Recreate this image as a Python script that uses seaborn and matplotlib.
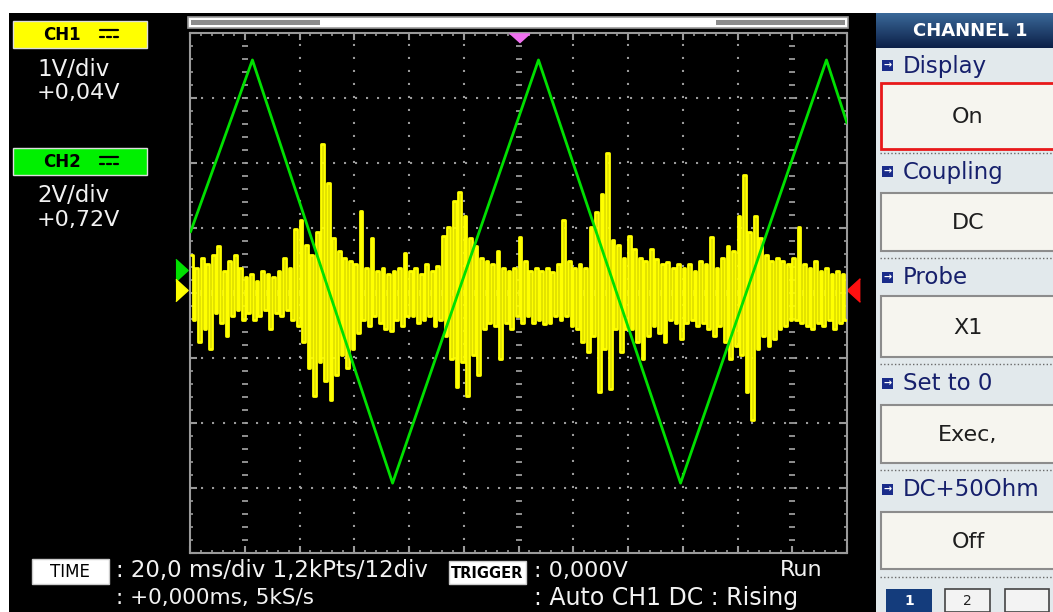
import numpy as np
import matplotlib
matplotlib.use("Agg")
import matplotlib.pyplot as plt
from matplotlib.patches import Rectangle
import seaborn as sns

# scope settings shown on screen
CH1_VOLTS_DIV = 1.0
CH1_OFFSET = 0.04
CH2_VOLTS_DIV = 2.0
CH2_OFFSET = 0.72
TIME_DIV_MS = 20.0

# CH2 - triangle wave, corner points (ms, V)
ch2_ms = [-119.8, -97.2, -46.0, 7.3, 59.2, 112.5, 120.0]
ch2_volts = [1.16, 6.45, -6.57, 6.45, -6.57, 6.45, 4.51]

# CH1 - noisy signal, one reading per ms (one row = one division)
ch1_volts = [
    0.55, -0.45, 0.35, -0.80, 0.50, -0.60, 0.40, -0.90, 0.55, -0.35, 0.68, -0.50, 0.30, -0.70, 0.45, -0.40, 0.55, -0.30, 0.35, -0.45,
    0.20, -0.35, 0.25, -0.45, 0.15, -0.40, 0.30, -0.30, 0.25, -0.60, 0.20, -0.35, 0.30, -0.40, 0.50, -0.30, 0.35, -0.45, 0.94, -0.55,
    1.09, -0.80, 0.70, -1.20, 0.55, -1.63, 0.90, -1.10, 2.25, -1.40, 1.66, -1.68, 0.80, -1.30, 0.60, -1.00, 0.50, -1.20, 0.45, -0.90,
    0.40, -0.65, 1.22, -0.45, 0.35, -0.55, 0.80, -0.40, 0.30, -0.50, 0.35, -0.60, 0.25, -0.62, 0.30, -0.45, 0.35, -0.55, 0.58, -0.40,
    0.30, -0.40, 0.35, -0.50, 0.25, -0.45, 0.40, -0.40, 0.30, -0.55, 0.37, -0.45, 0.83, -0.70, 0.97, -1.06, 1.37, -1.48, 1.51, -1.10,
    1.14, -1.63, 0.80, -1.00, 0.68, -1.30, 0.50, -0.60, 0.45, -0.50, 0.40, -0.55, 0.60, -1.06, 0.35, -0.50, 0.30, -0.60, 0.35, -0.40,
    0.82, -0.50, 0.45, -0.40, 0.30, -0.50, 0.35, -0.45, 0.30, -0.52, 0.35, -0.50, 0.28, -0.40, 0.40, -0.45, 1.09, -0.40, 0.45, -0.55,
    0.35, -0.60, 0.40, -0.80, 0.35, -0.95, 0.98, -0.70, 1.20, -1.57, 1.48, -0.90, 2.12, -1.52, 0.78, -0.60, 0.70, -0.95, 0.50, -0.60,
    0.83, -0.60, 0.63, -0.80, 0.50, -1.06, 0.45, -0.70, 0.63, -0.55, 0.48, -0.65, 0.40, -0.80, 0.43, -0.45, 0.35, -0.50, 0.40, -0.75,
    0.35, -0.50, 0.40, -0.45, 0.30, -0.55, 0.45, -0.50, 0.40, -0.60, 0.82, -0.70, 0.35, -0.55, 0.50, -0.80, 0.68, -1.05, 0.60, -0.85,
    1.14, -1.00, 1.78, -1.57, 0.90, -2.00, 1.14, -0.90, 0.80, -0.70, 0.55, -0.85, 0.45, -0.75, 0.50, -0.60, 0.45, -0.55, 0.40, -0.45,
    0.50, -0.45, 0.98, -0.50, 0.40, -0.55, 0.35, -0.60, 0.45, -0.50, 0.30, -0.55, 0.35, -0.45, 0.25, -0.60, 0.30, -0.50, 0.25, -0.45,
]
ch1_ms = np.arange(len(ch1_volts)) - 119.5

# screen texts
ch_labels = ["CH1", "CH2"]
ch_scales = ["1V/div", "2V/div"]
ch_offsets = ["+0,04V", "+0,72V"]
time_line1 = ": 20,0 ms/div 1,2kPts/12div"
time_line2 = ": +0,000ms, 5kS/s"
trig_line1 = ": 0,000V"
trig_line2 = ": Auto CH1 DC : Rising"
menu_titles = ["Display", "Coupling", "Probe", "Set to 0", "DC+50Ohm"]
menu_values = ["On", "DC", "X1", "Exec,", "Off"]

GRID = "#9a9a9a"
YELLOW = "#ffff00"
GREEN = "#00e000"

sns.set_theme(style="ticks")
plt.rcParams["font.family"] = ["DejaVu Sans"]

fig = plt.figure(figsize=(10.53, 6.12), dpi=100, facecolor="white")

# full-figure layer in pixel units for the scope frame and menus
deco = fig.add_axes([0, 0, 1, 1])
deco.set_xlim(0, 1053)
deco.set_ylim(612, 0)
deco.axis("off")


def box(x0, y0, x1, y1, **kw):
    deco.add_patch(Rectangle((x0, y0), x1 - x0, y1 - y0, **kw))


box(9, 13, 1053, 612, color="black", lw=0)

# position bar above the graticule
box(188, 17, 848, 28, facecolor="white", edgecolor="#9a9a9a", lw=1.2)
box(191, 20, 320, 25, color="#8c8c8c", lw=0)
box(716, 20, 845, 25, color="#8c8c8c", lw=0)

# channel labels on the left
for i, (lab, sc, off, col) in enumerate(zip(ch_labels, ch_scales, ch_offsets, [YELLOW, "#00f000"])):
    y0 = [21, 148][i]
    box(13, y0, 147, y0 + 27, facecolor=col, edgecolor="#dddddd", lw=1)
    deco.text(62, y0 + 14, lab, ha="center", va="center", fontsize=12,
              fontweight="bold", color="black")
    deco.plot([100, 118], [y0 + 9, y0 + 9], color="black", lw=1.6)
    for dx in [100, 107, 114]:
        deco.plot([dx, dx + 4], [y0 + 16, y0 + 16], color="black", lw=1.6)
    deco.text(37, y0 + 48, sc, ha="left", va="center", fontsize=16.5, color="#f2f2f2")
    deco.text(37, y0 + 72, off, ha="left", va="center", fontsize=16, color="#f2f2f2")

# bottom status lines
box(32, 559, 109, 584, facecolor="white", edgecolor="#cccccc", lw=1)
deco.text(70, 572, "TIME", ha="center", va="center", fontsize=12, color="black")
deco.text(116, 571, time_line1, ha="left", va="center", fontsize=16.5, color="#f2f2f2")
deco.text(116, 598, time_line2, ha="left", va="center", fontsize=15.5, color="#f2f2f2")
box(449, 561, 526, 584, facecolor="white", edgecolor="#cccccc", lw=1)
deco.text(487.5, 573, "TRIGGER", ha="center", va="center", fontsize=10.5,
          fontweight="bold", color="black")
deco.text(534, 571, trig_line1, ha="left", va="center", fontsize=16, color="#f2f2f2")
deco.text(534, 598, trig_line2, ha="left", va="center", fontsize=17, color="#f2f2f2")
deco.text(780, 570, "Run", ha="left", va="center", fontsize=16, color="#f2f2f2")

# menu panel on the right
box(876, 13, 1053, 612, color="#e2e9ec", lw=0)
grad = np.linspace(0, 1, 40)[:, None]
deco.imshow(grad, cmap=sns.blend_palette(["#3a6898", "#0c2048"], as_cmap=True),
            extent=(876, 1053, 48, 13), aspect="auto", zorder=1)
deco.set_xlim(0, 1053)
deco.set_ylim(612, 0)
deco.text(970, 31, "CHANNEL 1", ha="center", va="center", fontsize=13,
          fontweight="bold", color="white", zorder=2)

title_y = [66, 172, 278, 384, 490]
box_spans = [(83, 149), (193, 251), (296, 357), (405, 463), (512, 569)]
sep_y = [153, 258, 364, 470, 577]
for k in range(len(menu_titles)):
    ty = title_y[k]
    box(882, ty - 6, 893, ty + 5, color="#1a2c8a", lw=0)
    deco.text(887.5, ty - 0.5, "\u2192", ha="center", va="center", fontsize=7,
              color="white", fontweight="bold")
    deco.text(903, ty, menu_titles[k], ha="left", va="center", fontsize=16.5,
              color="#16206c")
    b0, b1 = box_spans[k]
    edge = "#e8191a" if k == 0 else "#8c8c8c"
    box(881, b0, 1056, b1, facecolor="#f6f5ef", edgecolor=edge, lw=2 if k == 0 else 1.5)
    deco.text(968, (b0 + b1) / 2 + 1, menu_values[k], ha="center", va="center",
              fontsize=16, color="#1e1e1e")
    deco.plot([880, 1053], [sep_y[k], sep_y[k]], color="#6a6a6a", lw=1,
              ls=(0, (1, 1.6)))

box(886, 589, 932, 612, color="#143c7c", lw=0)
deco.text(909, 601, "1", ha="center", va="center", fontsize=10, color="white",
          fontweight="bold")
box(945, 589, 990, 612, facecolor="#f3f3f3", edgecolor="#444444", lw=1.2)
deco.text(967, 601, "2", ha="center", va="center", fontsize=10, color="#222222")
box(1005, 589, 1049, 612, facecolor="#f3f3f3", edgecolor="#444444", lw=1.2)

# graticule
ax = fig.add_axes([190 / 1053, 1 - 553 / 612, 657 / 1053, 520 / 612])
ax.set_facecolor("black")
ax.set_xlim(-6 * TIME_DIV_MS, 6 * TIME_DIV_MS)
ax.set_ylim(-4, 4)
ax.set_xticks(np.arange(-120, 121, 20))
ax.set_xticks(np.arange(-120, 121, 4), minor=True)
ax.set_yticks(np.arange(-4, 5, 1))
ax.set_yticks(np.arange(-4, 4.01, 0.2), minor=True)
ax.tick_params(which="both", direction="in", top=True, right=True,
               labelbottom=False, labelleft=False, color=GRID)
ax.tick_params(which="major", length=5, width=1.5)
ax.tick_params(which="minor", length=2.5, width=1.2)
for sp in ax.spines.values():
    sp.set_color(GRID)
    sp.set_linewidth(1.5)
ax.grid(False)

for xv in [-80, -60, -40, -20, 20, 40, 60, 80]:
    ax.axvline(xv, color=GRID, lw=1.5, ls=(0, (1, 5.24)), zorder=1)
for yv in [-3, -2, -1, 1, 2, 3]:
    ax.axhline(yv, color=GRID, lw=1.5, ls=(0, (1, 4.28)), zorder=1)
minor_x = np.arange(-116, 117, 4)
ax.plot(minor_x, np.zeros_like(minor_x), ls="none", marker="|", ms=4.5,
        mew=1.3, color=GRID, zorder=1)
minor_y = np.arange(-3.8, 3.81, 0.2)
for xv in [-100, 0, 100]:
    ax.plot(np.full_like(minor_y, xv), minor_y, ls="none", marker="_", ms=4.5,
            mew=1.3, color=GRID, zorder=1)

# traces
ch1_div = (np.array(ch1_volts) + CH1_OFFSET) / CH1_VOLTS_DIV
ch2_div = (np.array(ch2_volts) + CH2_OFFSET) / CH2_VOLTS_DIV
sns.lineplot(x=ch1_ms, y=ch1_div, ax=ax, color=YELLOW, linewidth=2.0,
             drawstyle="steps-mid", estimator=None, sort=False, zorder=3)
sns.lineplot(x=ch2_ms, y=ch2_div, ax=ax, color=GREEN, linewidth=2,
             estimator=None, sort=False, zorder=4)

# ground / trigger markers
right_tri = [(-0.5, -1), (0.6, 0), (-0.5, 1)]
left_tri = [(0.5, -1), (-0.6, 0), (0.5, 1)]
ax.plot([-0.0137], [CH2_OFFSET / CH2_VOLTS_DIV], transform=ax.get_yaxis_transform(),
        marker=right_tri, ms=16, color="#00e000", ls="none", clip_on=False)
ax.plot([-0.0137], [CH1_OFFSET / CH1_VOLTS_DIV], transform=ax.get_yaxis_transform(),
        marker=right_tri, ms=16, color=YELLOW, ls="none", clip_on=False)
ax.plot([1.0106], [CH1_OFFSET / CH1_VOLTS_DIV], transform=ax.get_yaxis_transform(),
        marker=left_tri, ms=17, color="#ff1010", ls="none", clip_on=False)
ax.plot([0], [0.991], transform=ax.get_xaxis_transform(),
        marker=[(-1, 0.45), (1, 0.45), (0, -0.45)], ms=14.5, color="#f070f0",
        ls="none", clip_on=False, zorder=5)

fig.savefig("out.png", dpi=100, facecolor=fig.get_facecolor())
